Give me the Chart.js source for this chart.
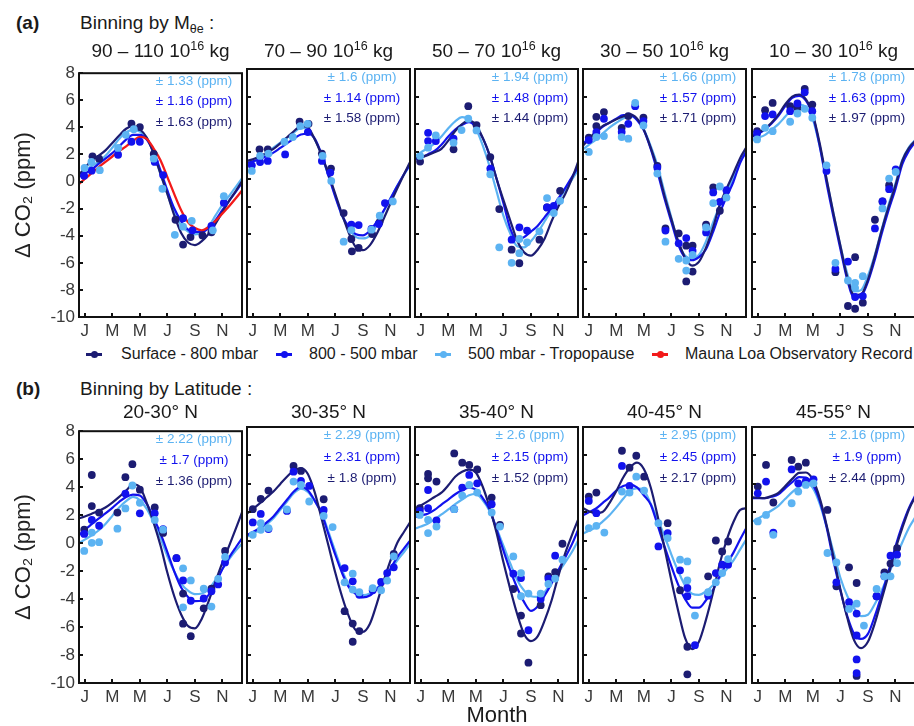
<!DOCTYPE html>
<html>
<head>
<meta charset="utf-8">
<script src="https://cdn.jsdelivr.net/npm/chart.js@4.4.1/dist/chart.umd.min.js"></script>
<style>
  body { margin:0; width:914px; height:726px; overflow:hidden; background:#fff; position:relative;
         font-family:"Liberation Sans", Arial, sans-serif; color:#1a1a1a; }
  canvas.panel { position:absolute; }
  .lbl { position:absolute; white-space:nowrap; line-height:1; }
  .ttl { font-size:19px; }
  .ptl { font-size:19px; transform:translateX(-50%); }
  .lbl sub { font-size:12.5px; vertical-align:-4px; }
  .lbl sup { font-size:12.5px; vertical-align:7px; }
  .mk { position:absolute; width:16px; height:2.5px; }
  .mk::after { content:""; position:absolute; left:5px; top:-2.5px; width:7px; height:7px; border-radius:50%; background:inherit; }
  .legtxt { font-size:16px; }
</style>
</head>
<body>
<script>
// ==================== Data ====================
// x axis is month of year (J = 1 ... D = 12)
const tickMonths = [1, 3, 5, 7, 9, 11];
const monthLabels = ['J', 'M', 'M', 'J', 'S', 'N'];
const curveMonths = [0.5, 1, 1.5, 2, 2.5, 3, 3.5, 4, 4.5, 5, 5.5, 6, 6.5, 7, 7.5, 8, 8.5, 9, 9.5, 10, 10.5, 11, 11.5, 12, 12.5];

const seriesNames = ['Surface - 800 mbar', '800 - 500 mbar', '500 mbar - Tropopause', 'Mauna Loa Observatory Record'];
const topRanges = ['90 \u2013 110', '70 \u2013 90', '50 \u2013 70', '30 \u2013 50', '10 \u2013 30'];
const latBands = ['20-30', '30-35', '35-40', '40-45', '45-55'];

// spread labels, [500 mbar - Trop, 800 - 500, Surface - 800]
const errTop = [['1.33', '1.16', '1.63'], ['1.6', '1.14', '1.58'], ['1.94', '1.48', '1.44'], ['1.66', '1.57', '1.71'], ['1.78', '1.63', '1.97']];
const errBottom = [['2.22', '1.7', '1.36'], ['2.29', '2.31', '1.8'], ['2.6', '2.15', '1.52'], ['2.95', '2.45', '2.17'], ['2.16', '1.9', '2.44']];

// ---- (a) 90 - 110 ----
const a1NavyPts = [[1.56,1.86],[2.04,1.69],[4.39,4.27],[5.0,4.02],[6.01,2.05],[7.59,-2.82],[8.14,-4.65],[8.68,-4.1],[9.55,-3.98],[10.2,-3.75]];
const a1BluePts = [[0.95,0.43],[1.5,0.8],[3.42,1.98],[4.39,2.94],[5.0,2.94],[6.08,1.45],[6.69,0.48],[8.14,-2.7],[8.82,-3.6],[10.2,-3.28],[11.1,-1.57]];
const a1LightPts = [[0.98,1.01],[1.48,1.45],[2.09,0.84],[3.42,2.48],[3.98,3.45],[4.56,3.86],[6.01,1.69],[6.64,-0.53],[7.54,-3.93],[8.14,-3.33],[8.77,-2.9],[10.3,-3.6],[11.1,-1.08]];
const a1NavyFit = [0.4,1.0,1.55,1.9,2.3,2.85,3.4,3.9,4.1,3.86,3.25,2.06,0.57,-0.92,-2.5,-3.8,-4.5,-4.7,-4.4,-3.85,-3.1,-2.25,-1.4,-0.65,0.15];
const a1BlueFit = [0.3,0.6,0.9,1.3,1.7,2.1,2.6,3.1,3.45,3.45,3.1,2.2,0.82,-0.66,-1.99,-2.92,-3.55,-3.72,-3.7,-3.45,-2.85,-2.1,-1.4,-0.7,0.05];
const a1LightFit = [0.45,0.8,1.15,1.45,1.9,2.5,3.15,3.65,3.8,3.7,3.2,2.1,0.56,-0.92,-2.32,-3.24,-3.7,-3.9,-3.78,-3.3,-2.5,-1.7,-1.05,-0.35,0.35];
const a1RedFit = [-0.25,0.2,0.62,1.05,1.45,1.85,2.25,2.6,3.0,3.3,3.15,2.44,1.58,0.33,-0.93,-2.11,-3.0,-3.43,-3.6,-3.35,-2.9,-2.35,-1.8,-1.2,-0.55];

// ---- (a) 70 - 90 ----
const a2NavyPts = [[1.49,2.17],[2.09,2.17],[4.4,4.17],[5.05,4.02],[6.02,1.86],[6.68,0.77],[7.6,-2.46],[8.16,-4.34],[8.2,-5.23],[8.69,-4.99],[9.67,-3.98],[10.2,-3.13]];
const a2BluePts = [[0.93,1.01],[1.53,1.25],[2.09,1.33],[3.35,1.8],[5.0,3.42],[6.02,1.33],[6.63,0.48],[8.16,-3.3],[8.69,-3.33],[9.62,-3.61],[10.15,-3.25],[10.6,-1.73]];
const a2LightPts = [[0.93,0.6],[1.53,1.69],[2.14,1.86],[3.3,2.72],[3.91,3.06],[4.45,3.86],[4.98,4.02],[6.07,1.69],[6.7,-0.12],[7.6,-4.53],[8.16,-3.69],[9.62,-3.66],[10.22,-2.65],[11.17,-1.61]];
const a2NavyFit = [1.3,1.45,1.65,1.9,2.2,2.6,3.05,3.5,3.85,3.75,2.9,1.75,0.39,-1.09,-2.59,-3.96,-4.96,-5.15,-4.8,-3.98,-2.89,-1.75,-0.66,0.39,1.4];
const a2BlueFit = [1.15,1.3,1.45,1.68,1.93,2.27,2.62,2.95,3.25,3.3,2.95,1.8,0.25,-1.3,-2.65,-3.5,-4.0,-4.08,-3.75,-3.1,-2.29,-1.4,-0.48,0.4,1.2];
const a2LightFit = [0.95,1.25,1.55,1.92,2.29,2.65,3.02,3.4,3.72,3.6,2.9,1.75,0.25,-1.2,-2.7,-3.6,-4.2,-4.3,-4.1,-3.3,-2.35,-1.4,-0.48,0.35,1.15];

// ---- (a) 50 - 70 ----
const a3NavyPts = [[0.95,1.28],[3.38,2.17],[4.45,5.3],[5.05,3.93],[6.05,1.61],[6.7,-2.17],[7.6,-5.11],[8.16,-6.1],[9.62,-4.39],[10.17,-2.05],[11.12,-0.84]];
const a3BluePts = [[1.53,3.37],[1.53,2.77],[2.09,2.77],[3.38,2.94],[6.05,0.77],[7.6,-4.39],[8.16,-3.49],[8.72,-3.73],[10.17,-2.05],[10.66,-1.93]];
const a3LightPts = [[0.95,1.69],[1.53,2.29],[2.09,3.18],[3.38,2.65],[3.96,3.57],[4.45,4.39],[5.05,3.54],[6.05,0.36],[6.7,-4.94],[7.6,-6.07],[8.16,-4.34],[8.16,-5.37],[8.72,-4.58],[9.62,-3.78],[10.17,-1.37],[10.66,-2.46],[11.12,-1.57]];
const a3NavyFit = [1.5,1.6,1.75,1.95,2.2,2.8,3.5,4.0,4.25,3.95,3.0,1.77,0.05,-1.5,-3.0,-4.45,-5.3,-5.55,-5.1,-4.3,-3.05,-1.97,-1.05,0.1,1.45];
const a3BlueFit = [1.4,1.55,1.8,2.05,2.5,3.1,3.6,3.95,4.14,3.8,3.0,1.7,0.05,-1.73,-3.58,-4.43,-4.2,-3.8,-3.37,-2.75,-2.12,-1.38,-0.63,0.2,1.0];
const a3LightFit = [1.6,1.95,2.25,2.6,3.1,3.7,4.2,4.5,4.35,3.7,2.45,0.92,-0.86,-2.64,-3.95,-4.86,-4.95,-4.5,-3.86,-3.05,-2.25,-1.5,-0.76,0.0,0.8];

// ---- (a) 30 - 50 ----
const a4NavyPts = [[1,3.01],[1.55,4.53],[1.55,3.86],[2.1,4.87],[3.39,3.73],[3.87,4.58],[4.97,4.46],[5.98,0.96],[6.57,-3.57],[7.53,-3.93],[8.08,-4.82],[8.08,-7.42],[8.54,-4.82],[8.54,-6.7],[9.52,-3.3],[10.04,-0.6],[10.52,-2.29]];
const a4BluePts = [[1,2.84],[1.55,3.42],[2.1,4.39],[3.39,3.42],[3.87,4.02],[4.37,5.3],[4.97,4.22],[5.98,0.84],[6.57,-3.73],[7.53,-4.65],[8.08,-4.27],[8.54,-5.2],[9.52,-3.86],[10.04,-0.96],[10.52,-1.64],[11.0,-0.8]];
const a4LightPts = [[1,1.98],[1.55,3.06],[2.1,3.13],[3.39,3.06],[3.87,2.94],[4.37,5.54],[4.97,3.9],[5.98,0.41],[6.57,-4.53],[7.53,-5.78],[8.08,-5.9],[8.08,-6.63],[8.54,-5.49],[9.52,-3.5],[10.04,-1.73],[10.52,-0.53],[11.0,-1.33]];
const a4NavyFit = [2.35,2.9,3.45,3.85,4.1,4.35,4.55,4.7,4.4,3.58,2.28,0.75,-1.2,-2.9,-4.5,-5.7,-6.27,-6.0,-5.0,-3.6,-1.9,-0.7,0.4,1.55,2.4];
const a4BlueFit = [2.5,2.95,3.35,3.8,4.1,4.4,4.65,4.65,4.3,3.55,2.2,0.5,-1.4,-3.1,-4.75,-5.7,-5.88,-5.65,-5.1,-3.9,-2.5,-1.3,-0.2,1.2,2.1];
const a4LightFit = [2.1,2.5,2.85,3.3,3.75,4.1,4.4,4.58,4.35,3.6,2.4,0.95,-0.95,-2.8,-4.6,-5.55,-5.75,-5.5,-4.55,-3.2,-1.95,-0.9,0.1,1.3,2.4];

// ---- (a) 10 - 30 ----
const a5NavyPts = [[0.95,3.49],[1.53,5.01],[2.08,5.54],[3.35,5.3],[3.88,5.18],[4.41,6.55],[4.96,5.42],[6.64,-6.75],[7.55,-9.2],[8.07,-5.66],[8.07,-9.4],[8.63,-8.96],[9.51,-2.94],[10.06,-1.61],[10.54,-0.43]];
const a5BluePts = [[0.95,3.33],[1.53,4.58],[2.08,4.7],[3.35,4.94],[3.88,5.5],[4.41,6.31],[4.96,4.94],[5.99,0.6],[6.64,-6.51],[7.55,-5.98],[8.07,-8.55],[8.63,-8.48],[9.51,-3.57],[10.06,-1.61],[10.54,-0.72],[11.02,0.72]];
const a5LightPts = [[0.95,2.89],[1.53,3.73],[2.08,3.49],[3.35,4.17],[3.88,4.77],[4.41,5.11],[4.96,4.46],[5.99,1.01],[6.64,-6.07],[7.55,-7.35],[8.07,-7.52],[8.07,-7.9],[8.63,-7.04],[10.06,-2.12],[10.54,0.05],[11.02,0.53]];
const a5NavyFit = [3.1,3.35,3.65,4.1,4.7,5.45,6.0,6.15,5.8,4.7,2.6,0.0,-2.5,-4.82,-7.1,-8.4,-8.35,-7.3,-5.6,-3.7,-2.0,-0.45,1.35,2.3,2.85];
const a5BlueFit = [3.05,3.28,3.6,4.05,4.6,5.3,5.9,6.05,5.7,4.6,2.4,-0.3,-2.75,-5.06,-7.3,-8.6,-8.5,-7.45,-5.85,-3.95,-2.25,-0.7,1.1,2.1,2.8];
const a5LightFit = [2.8,3.0,3.2,3.6,4.0,4.55,5.1,5.4,5.25,4.35,2.4,-0.05,-2.5,-4.82,-6.85,-8.15,-8.05,-7.0,-5.5,-3.65,-1.85,-0.3,1.4,2.35,2.9];

// ---- (b) 20-30 N ----
const b1NavyPts = [[0.96,0.96],[1.51,4.87],[1.51,2.65],[2.04,2.18],[3.37,2.18],[3.95,4.71],[4.46,5.64],[5.0,3.82],[6.08,2.55],[6.69,0.73],[7.66,-1.08],[8.14,-3.61],[8.14,-5.76],[8.7,-6.65],[9.64,-4.66],[10.2,-3.26],[11.19,-0.56]];
const b1BluePts = [[0.96,0.66],[1.51,1.66],[2.04,1.24],[3.95,3.54],[5.0,2.13],[6.08,2.13],[6.69,1.0],[7.66,-1.08],[8.14,-2.67],[8.7,-4.12],[9.64,-3.96],[10.2,-3.44],[10.69,-2.95],[11.19,-1.38]];
const b1LightPts = [[0.96,-0.56],[1.51,0.02],[1.51,0.75],[2.04,0.07],[3.37,1.03],[3.95,2.48],[4.46,4.12],[5.0,2.88],[6.08,1.66],[6.69,0.96],[8.14,-1.8],[8.14,-4.59],[8.7,-2.67],[9.64,-3.26],[10.2,-4.54],[10.69,-2.55],[11.19,-0.98]];
const b1NavyFit = [1.75,1.9,2.1,2.3,2.55,2.9,3.3,3.75,4.2,4.0,2.88,1.47,-0.17,-2.12,-3.8,-5.1,-5.93,-6.1,-5.4,-4.15,-2.73,-1.37,-0.16,1.1,2.4];
const b1BlueFit = [0.5,0.95,1.35,1.75,2.12,2.52,2.95,3.3,3.47,3.4,2.8,1.8,0.69,-0.64,-2.03,-3.17,-3.85,-4.15,-4.12,-3.7,-2.9,-1.85,-1.0,-0.26,0.45];
const b1LightFit = [-0.05,0.25,0.55,0.9,1.37,1.95,2.55,3.0,3.3,3.07,2.45,1.5,0.36,-0.94,-2.02,-2.9,-3.4,-3.65,-3.6,-3.3,-2.62,-1.85,-1.12,-0.5,0.05];

// ---- (b) 30-35 N ----
const b2NavyPts = [[1,2.22],[1.58,2.94],[2.14,3.53],[3.96,5.26],[4.5,4.91],[6.15,2.92],[7.67,-4.95],[8.26,-5.82],[8.26,-7.1],[8.74,-6.35],[11.24,-0.93]];
const b2BluePts = [[1,1.29],[1.58,1.89],[2.14,0.82],[3.48,2.1],[3.96,4.86],[4.5,4.21],[5.1,3.86],[6.15,2.17],[7.67,-1.92],[8.26,-2.85],[8.74,-3.8],[9.71,-3.48],[10.32,-2.9],[10.76,-2.27],[11.24,-1.87]];
const b2LightPts = [[1,0.42],[1.58,1.24],[1.58,0.77],[2.14,0.89],[3.48,2.2],[3.96,4.16],[4.5,3.93],[5.1,2.76],[6.15,1.75],[6.8,0.96],[7.67,-2.92],[8.26,-2.31],[8.26,-3.43],[8.74,-3.62],[9.71,-3.33],[10.32,-3.48],[10.76,-2.8],[11.24,-1.1]];
const b2NavyFit = [1.85,2.24,2.62,3.04,3.46,4.0,4.52,4.95,5.1,4.7,3.4,1.55,-0.35,-2.27,-3.97,-5.37,-6.3,-6.4,-5.85,-4.45,-2.85,-1.4,-0.14,0.65,1.42];
const b2BlueFit = [0.35,0.62,0.88,1.28,1.71,2.3,2.9,3.48,3.8,3.55,2.82,1.9,0.45,-1.0,-2.3,-3.3,-3.75,-3.98,-3.85,-3.42,-2.85,-1.97,-1.15,-0.52,0.1];
const b2LightFit = [0.25,0.5,0.76,1.16,1.59,2.18,2.78,3.36,3.67,3.44,2.8,1.95,0.63,-0.77,-2.1,-3.13,-3.6,-3.82,-3.7,-3.35,-2.86,-2.1,-1.38,-0.77,-0.12];

// ---- (b) 35-40 N ----
const b3NavyPts = [[0.93,2.29],[1.53,4.7],[1.53,4.39],[2.14,4.16],[3.43,6.14],[4.01,5.49],[4.52,5.33],[5.1,5.02],[6.15,3.04],[6.75,1.12],[7.72,-3.39],[8.28,-5.26],[8.28,-6.52],[8.82,-8.57],[9.71,-4.53],[10.27,-2.5],[10.76,-2.2],[11.29,-0.21]];
const b3BluePts = [[0.93,2.1],[1.53,3.57],[1.53,2.29],[2.14,1.43],[3.43,2.22],[4.01,3.74],[4.52,4.63],[5.1,4.04],[6.15,2.57],[7.72,-2.31],[8.28,-2.62],[8.82,-6.29],[9.71,-4.09],[10.27,-2.66],[10.76,-1.05]];
const b3LightPts = [[0.93,1.82],[1.53,1.47],[1.53,0.54],[2.14,1.0],[3.43,2.22],[4.01,3.18],[4.52,3.93],[5.1,3.39],[6.15,1.99],[6.75,1.0],[7.72,-1.1],[8.28,-2.27],[8.28,-3.9],[8.82,-3.71],[9.71,-3.71],[10.27,-3.04],[10.76,-2.66],[11.29,-1.33]];
const b3NavyFit = [2.2,2.48,2.77,3.08,3.38,3.9,4.5,4.85,5.0,4.8,3.8,2.35,0.58,-1.5,-3.4,-5.15,-6.55,-7.05,-6.7,-5.6,-4.2,-2.45,-0.85,0.45,1.65];
const b3BlueFit = [1.65,1.78,1.9,2.17,2.55,2.9,3.27,3.55,3.73,3.6,3.0,2.2,0.8,-0.68,-2.08,-3.3,-4.3,-4.93,-4.6,-3.85,-3.0,-2.05,-1.15,-0.2,0.95];
const b3LightFit = [0.82,1.0,1.2,1.5,1.85,2.2,2.57,2.9,3.2,3.3,2.85,2.1,0.9,-0.35,-1.6,-2.75,-3.5,-3.9,-3.95,-3.6,-2.9,-2.2,-1.5,-0.75,0.15];

// ---- (b) 40-45 N ----
const b4NavyPts = [[1,3.11],[1.55,3.39],[3.41,6.33],[3.96,5.14],[4.45,5.98],[5.02,4.51],[6.73,1.24],[7.63,-3.48],[8.16,-7.45],[8.16,-9.39],[9.67,-2.5],[10.23,0.02],[10.69,-0.75],[11.12,-0.05]];
const b4BluePts = [[1,2.8],[1.55,1.94],[3.41,5.26],[3.96,3.86],[6.06,-0.4],[6.73,0.54],[7.63,-2.08],[8.16,-3.32],[8.16,-3.9],[8.71,-7.34],[9.67,-3.86],[10.23,-2.27],[10.69,-1.68],[11.12,-1.68]];
const b4LightPts = [[1,0.89],[1.55,1.05],[2.13,0.58],[3.41,3.46],[3.96,3.39],[4.45,4.51],[5.02,3.53],[6.06,1.24],[6.73,0.19],[7.63,-1.33],[8.16,-1.45],[8.16,-2.78],[8.71,-5.26],[9.67,-3.62],[10.23,-2.92],[10.69,-2.27],[11.12,-1.29]];
const b4NavyFit = [2.35,2.08,1.95,2.03,2.65,3.5,4.45,5.15,5.49,5.05,3.75,1.75,-0.5,-2.8,-4.95,-6.85,-7.62,-7.1,-5.6,-3.75,-1.65,0.0,1.3,2.18,2.3];
const b4BlueFit = [1.75,2.0,2.25,2.65,3.05,3.52,3.85,3.95,3.75,3.2,2.55,1.1,-0.4,-1.8,-3.1,-4.1,-4.7,-4.7,-4.2,-3.5,-2.5,-1.65,-0.85,0.1,1.0];
const b4LightFit = [0.47,0.7,0.95,1.35,1.8,2.35,2.95,3.5,3.68,3.55,2.6,1.5,0.33,-0.97,-2.15,-3.15,-3.72,-3.8,-3.57,-3.15,-2.6,-2.03,-1.4,-0.6,0.2];

// ---- (b) 45-55 N ----
const b5NavyPts = [[1,3.81],[1.6,5.33],[2.13,2.69],[3.46,5.68],[3.94,5.21],[4.49,5.49],[6.06,2.17],[6.71,-3.2],[7.63,-1.87],[8.18,-2.97],[8.18,-9.5],[9.63,-3.9],[10.2,-2.22],[10.64,-1.6],[11.12,-0.51]];
const b5BluePts = [[1,3.34],[1.6,4.16],[2.13,0.58],[3.46,5.02],[3.94,4.04],[4.49,4.2],[5.05,4.32],[6.71,-2.92],[7.63,-4.32],[8.18,-5.12],[8.18,-6.66],[8.18,-8.34],[8.18,-9.3],[9.63,-3.9],[10.2,-2.5],[10.64,-1.05],[11.12,-0.98]];
const b5LightPts = [[1,1.36],[1.6,1.82],[2.13,0.42],[3.46,2.64],[3.94,3.46],[4.49,3.93],[5.05,4.04],[6.06,-0.86],[6.71,-1.52],[7.63,-4.79],[8.18,-4.42],[8.71,-5.96],[9.63,-3.39],[10.2,-2.5],[10.64,-2.5],[11.12,-1.57]];
const b5NavyFit = [3.07,3.03,3.0,3.15,3.37,3.85,4.35,4.78,4.8,4.3,3.0,1.1,-1.15,-3.4,-5.4,-7.0,-7.55,-7.1,-5.8,-4.1,-2.4,-0.6,0.9,2.25,3.2];
const b5BlueFit = [3.0,2.99,3.0,3.1,3.27,3.7,4.12,4.48,4.45,3.95,2.8,0.95,-1.4,-3.5,-5.3,-6.55,-6.9,-6.55,-5.3,-3.8,-2.15,-0.4,1.1,2.35,3.3];
const b5LightFit = [1.3,1.55,1.83,2.13,2.45,2.95,3.42,3.8,4.03,3.7,2.6,1.0,-0.8,-2.6,-3.88,-4.75,-5.3,-5.2,-4.45,-3.5,-2.35,-1.2,-0.1,0.95,1.75];

// ==================== Layout / styles ====================
const seriesColors = ['#1c1c72', '#1212ee', '#5cb3f2']; // surface, 800-500, 500-trop
const redColor = '#f21a1a';
const panelLefts = [79, 247, 415, 583, 752];
const plotWidth = 163;
const rowTops = [69, 427];
const rowHeights = [248, 256];

Chart.defaults.font.family = '"Liberation Sans", Arial, sans-serif';

// box around every panel + small inward tick marks
const framePlugin = {
    id: 'frame',
    afterDraw(chart) {
        const { ctx, chartArea: a, scales: { x, y } } = chart;
        ctx.save();
        ctx.strokeStyle = '#111';
        ctx.lineWidth = 2;
        ctx.strokeRect(a.left, a.top, a.right - a.left, a.bottom - a.top);
        ctx.beginPath();
        y.ticks.forEach(t => {
            const py = Math.round(y.getPixelForValue(t.value));
            ctx.moveTo(a.left, py);
            ctx.lineTo(a.left + 4, py);
        });
        x.ticks.forEach(t => {
            const px = Math.round(x.getPixelForValue(t.value));
            ctx.moveTo(px, a.bottom);
            ctx.lineTo(px, a.bottom - 4);
        });
        ctx.stroke();
        ctx.restore();
    }
};

// "± x (ppm)" labels
const errPlugin = {
    id: 'errText',
    afterDraw(chart, args, opts) {
        if (!opts.values) return;
        const { ctx, scales: { x, y } } = chart;
        const colors = [seriesColors[2], seriesColors[1], seriesColors[0]];
        const levels = [7.4, 5.9, 4.4];
        ctx.save();
        ctx.font = '13.5px "Liberation Sans", Arial, sans-serif';
        ctx.textAlign = 'center';
        ctx.textBaseline = 'middle';
        opts.values.forEach((v, i) => {
            ctx.fillStyle = colors[i];
            ctx.fillText('\u00b1 ' + v + ' (ppm)', x.getPixelForValue(8.93), y.getPixelForValue(levels[i]));
        });
        ctx.restore();
    }
};

function toXY(months, values) {
    return values.map((v, i) => ({ x: months[i], y: v }));
}

function makePanel(row, col, pts, fits, errs, redFit) {
    const first = col === 0;
    const padL = first ? panelLefts[0] : 6;
    const padR = 6, padT = 10, padB = 28;

    const canvas = document.createElement('canvas');
    canvas.className = 'panel';
    canvas.width = padL + plotWidth + padR;
    canvas.height = padT + rowHeights[row] + padB;
    canvas.style.left = (panelLefts[col] - padL) + 'px';
    canvas.style.top = (rowTops[row] - padT) + 'px';
    document.body.appendChild(canvas);

    const datasets = [];
    // scatter points (light on top)
    [2, 1, 0].forEach((s, k) => {
        datasets.push({
            data: pts[s].map(p => ({ x: p[0], y: p[1] })),
            showLine: false,
            pointRadius: 3.9,
            pointBorderWidth: 0,
            pointBackgroundColor: seriesColors[s],
            order: k
        });
    });
    if (redFit) {
        datasets.push({
            data: toXY(curveMonths, redFit), showLine: true, borderColor: redColor, borderWidth: 2.3,
            pointRadius: 0, cubicInterpolationMode: 'monotone', order: 3
        });
    }
    [0, 1, 2].forEach(s => {
        datasets.push({
            data: toXY(curveMonths, fits[s]), showLine: true, borderColor: seriesColors[s], borderWidth: 2.2,
            pointRadius: 0, cubicInterpolationMode: 'monotone', order: 4 + s
        });
    });

    new Chart(canvas, {
        type: 'scatter',
        data: { datasets: datasets },
        options: {
            responsive: false,
            animation: false,
            events: [],
            layout: { padding: { top: padT, right: padR, left: 0, bottom: 0 } },
            plugins: { legend: { display: false }, tooltip: { enabled: false }, errText: { values: errs } },
            scales: {
                x: {
                    type: 'linear', min: 0.58, max: 12.42,
                    grid: { display: false, drawTicks: false },
                    border: { display: false },
                    afterBuildTicks: s => { s.ticks = tickMonths.map(v => ({ value: v })); },
                    ticks: {
                        callback: (v, i) => monthLabels[i],
                        font: { size: 17 }, color: '#3a3a3a', padding: 4,
                        maxRotation: 0, autoSkip: false
                    },
                    afterFit: s => { s.height = padB; }
                },
                y: {
                    min: -10, max: 8,
                    grid: { display: false, drawTicks: false },
                    border: { display: false },
                    ticks: { display: first, stepSize: 2, font: { size: 17 }, color: '#3a3a3a', padding: 4 },
                    title: {
                        display: first, text: '\u0394 CO\u2082 (ppm)', font: { size: 22 }, color: '#222',
                        padding: { top: 11, bottom: 0 }
                    },
                    afterFit: s => { s.width = padL; }
                }
            }
        },
        plugins: [framePlugin, errPlugin]
    });
}

// ==================== Build ====================
const topPts = [[a1NavyPts, a1BluePts, a1LightPts], [a2NavyPts, a2BluePts, a2LightPts], [a3NavyPts, a3BluePts, a3LightPts], [a4NavyPts, a4BluePts, a4LightPts], [a5NavyPts, a5BluePts, a5LightPts]];
const topFits = [[a1NavyFit, a1BlueFit, a1LightFit], [a2NavyFit, a2BlueFit, a2LightFit], [a3NavyFit, a3BlueFit, a3LightFit], [a4NavyFit, a4BlueFit, a4LightFit], [a5NavyFit, a5BlueFit, a5LightFit]];
const botPts = [[b1NavyPts, b1BluePts, b1LightPts], [b2NavyPts, b2BluePts, b2LightPts], [b3NavyPts, b3BluePts, b3LightPts], [b4NavyPts, b4BluePts, b4LightPts], [b5NavyPts, b5BluePts, b5LightPts]];
const botFits = [[b1NavyFit, b1BlueFit, b1LightFit], [b2NavyFit, b2BlueFit, b2LightFit], [b3NavyFit, b3BlueFit, b3LightFit], [b4NavyFit, b4BlueFit, b4LightFit], [b5NavyFit, b5BlueFit, b5LightFit]];

for (let c = 0; c < 5; c++) {
    makePanel(0, c, topPts[c], topFits[c], errTop[c], c === 0 ? a1RedFit : null);
    makePanel(1, c, botPts[c], botFits[c], errBottom[c], null);
}

function addLabel(html, cls, left, top) {
    const d = document.createElement('div');
    d.className = 'lbl ' + cls;
    d.innerHTML = html;
    d.style.left = left + 'px';
    d.style.top = top + 'px';
    document.body.appendChild(d);
    return d;
}

// headers
addLabel('(a)', 'ttl', 16, 13).style.fontWeight = 'bold';
addLabel('Binning by M<sub>\u03b8e</sub> :', 'ttl', 80, 13);
addLabel('(b)', 'ttl', 16, 379).style.fontWeight = 'bold';
addLabel('Binning by Latitude :', 'ttl', 80, 379);
for (let c = 0; c < 5; c++) {
    const cx = panelLefts[c] + plotWidth / 2;
    addLabel(topRanges[c] + ' 10<sup>16</sup> kg', 'ptl', cx, 40);
    addLabel(latBands[c] + '\u00b0 N', 'ptl', cx, 402);
}

// legend
const legendMarkX = [86, 276, 435, 652];
const legendTextX = [121, 309, 468, 685];
const legendColors = [seriesColors[0], seriesColors[1], seriesColors[2], redColor];
seriesNames.forEach((name, i) => {
    const m = document.createElement('div');
    m.className = 'mk';
    m.style.left = legendMarkX[i] + 'px';
    m.style.top = '353px';
    m.style.background = legendColors[i];
    document.body.appendChild(m);
    addLabel(name, 'legtxt', legendTextX[i], 346);
});

// x axis title
addLabel('Month', '', 497, 704).style.cssText += 'font-size:22px; transform:translateX(-50%);';
</script>
</body>
</html>
